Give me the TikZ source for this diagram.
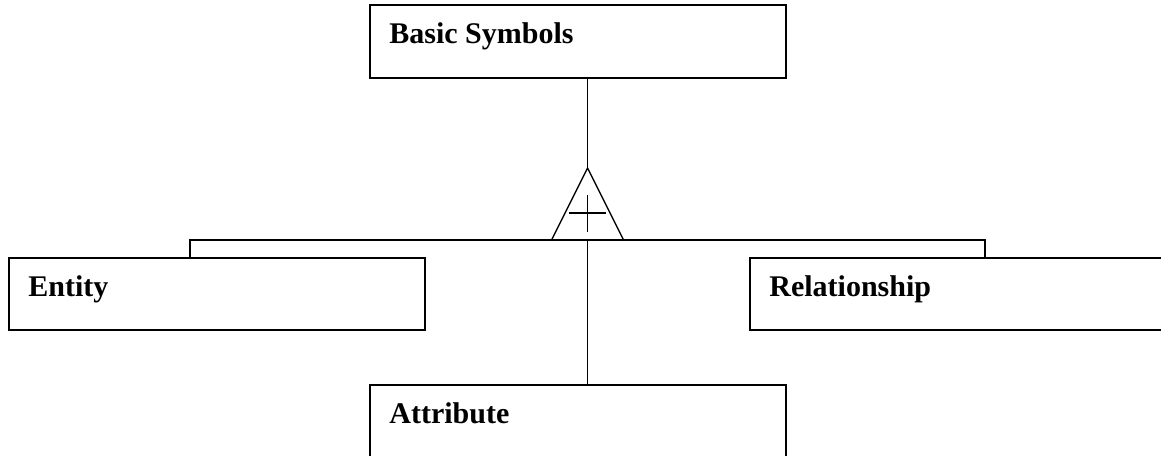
\documentclass[tikz,border=0pt]{standalone}
\usepackage{fontspec}
\setmainfont{Liberation Serif}
\usetikzlibrary{calc}
\begin{document}
\begin{tikzpicture}[x=0.75pt,y=-0.75pt,
  box/.style={draw, line width=1.3pt, rectangle, minimum width=416*0.75pt, minimum height=72*0.75pt, inner sep=0pt},
  lbl/.style={anchor=base west, inner sep=0pt, font=\fontsize{22.5}{27}\selectfont\bfseries},
  wire/.style={line width=1pt}]
\useasboundingbox (0,0) rectangle (1161,456);
\clip (0,0) rectangle (1161,456);

% class boxes
\node[box, minimum height=73*0.75pt] (bs) at (578,41.5) {};
\node[box] (ent) at (217,294) {};
\node[box] (rel) at (958,294) {};
\node[box] (att) at (578,421) {};

% box titles
\node[lbl] (bst) at ($(bs.north west)+(20,39)$) {Basic Symbols};
\node[lbl] (entt) at ($(ent.north west)+(20,39)$) {Entity};
\node[lbl] (relt) at ($(rel.north west)+(20,39)$) {Relationship};
\node[lbl] (attt) at ($(att.north west)+(20,39)$) {Attribute};

% generalization triangle with cross
\coordinate (apex) at (587.5,168);
\coordinate (bl) at (551.5,240);
\coordinate (br) at (623.5,240);
\coordinate (base) at (587.5,240);
\draw[wire] (apex) -- (bl) -- (br) -- cycle;
\draw[wire] (587.5,195) -- (587.5,232);
\draw[wire] (569,213) -- (606,213);

% connectors
\coordinate (jl) at (190,240);
\coordinate (jr) at (985,240);
\draw[wire] (bs.south -| apex) -- (apex);
\draw[wire] (ent.north -| jl) -- (jl) -- (jr) -- (rel.north -| jr);
\draw[wire] (base) -- (att.north -| base);
\end{tikzpicture}
\end{document}
